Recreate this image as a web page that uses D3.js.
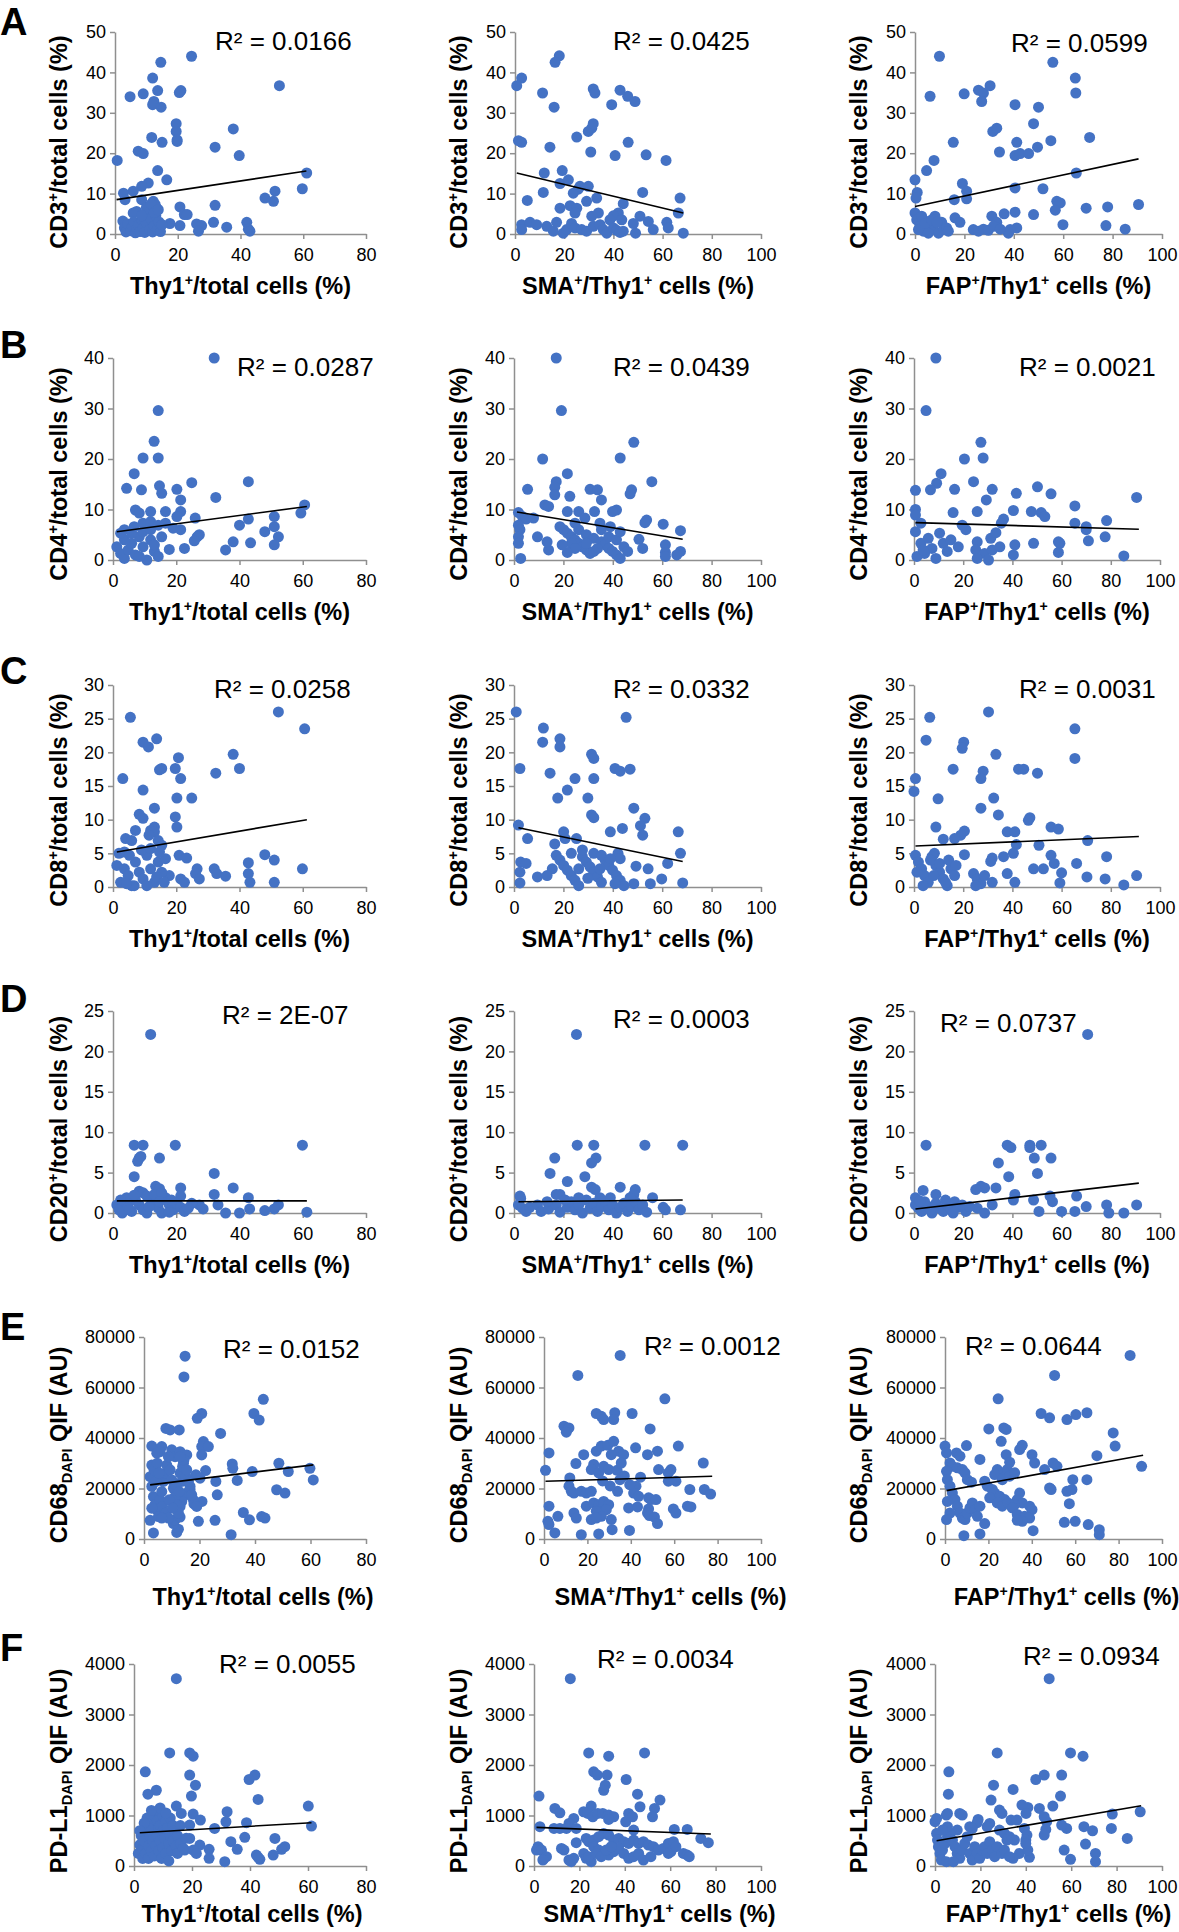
<!DOCTYPE html>
<html><head><meta charset="utf-8">
<script src="https://cdn.jsdelivr.net/npm/d3@7"></script>
<style>body{margin:0;background:#fff;} svg{display:block;} text{font-family:"Liberation Sans",Arial,Helvetica,sans-serif;}</style>
</head><body><svg id="c" width="1179" height="1932"></svg>
<script>
// ---------- labels ----------
const rowLetters = ["A","B","C","D","E","F"];
const yTitles = ["CD3^+/total cells (%)","CD4^+/total cells (%)","CD8^+/total cells (%)","CD20^+/total cells (%)","CD68_DAPI QIF (AU)","PD-L1_DAPI QIF (AU)"];
const xTitles = ["Thy1^+/total cells (%)","SMA^+/Thy1^+ cells (%)","FAP^+/Thy1^+ cells (%)"];
const yTickSets = [[0,10,20,30,40,50],[0,10,20,30,40],[0,5,10,15,20,25,30],[0,5,10,15,20,25],[0,20000,40000,60000,80000],[0,1000,2000,3000,4000]];
const xTickSets = [[0,20,40,60,80],[0,20,40,60,80,100],[0,20,40,60,80,100]];
const r2Labels = [
 ["R² = 0.0166","R² = 0.0425","R² = 0.0599"],
 ["R² = 0.0287","R² = 0.0439","R² = 0.0021"],
 ["R² = 0.0258","R² = 0.0332","R² = 0.0031"],
 ["R² = 2E-07","R² = 0.0003","R² = 0.0737"],
 ["R² = 0.0152","R² = 0.0012","R² = 0.0644"],
 ["R² = 0.0055","R² = 0.0034","R² = 0.0934"]];
// trendline endpoints [x0,y0,x1,y1]
const trends = [
 [[0.5,8.5,61,15.6],[0.7,15.1,68.4,5.2],[0,6.8,90.5,18.6]],
 [[1.2,5.6,61.3,10.6],[1.2,9.5,68.3,4.1],[0.6,7.4,91.4,6.1]],
 [[1.2,5.2,61.3,10],[1.8,8.8,68.3,3.8],[0.6,6.1,91.4,7.5]],
 [[1.2,1.5,61.3,1.5],[1.8,1.4,68.3,1.6],[0.6,0.5,91.4,3.7]],
 [[2.2,21450,61,29350],[0.7,22870,77.5,24850],[0.7,19170,91.3,33180]],
 [[2,659,61.2,857],[1.1,764,77.9,633],[0.7,501,90.8,1193]]];

// ---------- data ----------
const cd3_thy1 = [[24.4,44],[14.6,42.5],[12,38.6],[52.4,36.7],[21,35.5],[20.5,35],[13.6,35.5],[4.8,34],[9,34.7],[12.4,32.8],[12,32],[14.7,31.4],[19.5,27.3],[19.5,25.4],[19.8,23.3],[19.8,22.9],[37.7,26],[11.7,23.9],[15,22.7],[31.9,21.5],[39.6,19.4],[7.4,20.5],[9,19.9],[0.7,18.2],[13.6,15.7],[16.5,13.4],[10.6,12.6],[8.5,11.8],[5.8,10.6],[2.7,10.1],[3.2,8.5],[61.1,15.1],[59.7,11.2],[51,10.6],[50.5,8.1],[47.8,8.9],[20.7,6.7],[22.1,4.8],[23,4.8],[31.9,7.1],[12.2,8.1],[12.8,7.3],[13.3,6.4],[11.7,5.2],[10.1,4.4],[6.9,5.6],[5.8,5.2],[8.5,8.5],[31.4,2.9],[35.6,1.7],[42,2.9],[42.5,1.2],[43,0.7],[26,2.5],[27.6,2.1],[26.6,0.7],[20.7,2.1],[17.5,2.6],[2.5,3.2],[3,1.5],[3.5,0.5],[4,2.5],[5,0.8],[5.5,1.8],[6,3],[6.5,0.3],[7,1.2],[7.5,2.2],[8,0.6],[8.5,3.5],[9,1.5],[9.5,0.4],[10,2.8],[10.5,5.8],[11,1],[11.5,3.8],[12,0.5],[12.5,2],[13,4.5],[13.5,1.2],[14,3],[14.5,0.6],[15,2.3],[10,6.5],[11.5,7.4],[12.5,5.3],[8.5,4.5],[13.8,6]];
const cd3_sma = [[18,44.1],[16.3,42.5],[2.7,38.6],[0.7,36.7],[11.2,34.9],[15.9,31.4],[31.8,35.9],[32.5,34.9],[42.7,35.6],[45.8,34.1],[48.8,32.8],[39.3,32],[29.8,25.4],[31.2,26.2],[31.8,27.3],[25.1,24],[1.4,23.1],[2.7,22.7],[14.2,21.5],[30.8,20.3],[40.7,19.4],[46,22.7],[53.3,19.6],[61.4,18.2],[19.2,15.7],[18.3,12.5],[11.9,15.1],[11.5,10.3],[21.7,13.4],[25.7,11.1],[23.7,10.1],[26.4,11.8],[29.8,11.8],[29.1,8.1],[5,8.3],[33.2,8.9],[33.9,5.2],[31.2,4.4],[51.9,10.3],[67.1,8.9],[66.4,5.2],[18.3,6.4],[22.4,7],[25.1,6.4],[24.4,5.2],[44,7.5],[42,5.2],[40,4.5],[38.6,3.5],[43.4,3.5],[50.8,4.4],[54.2,3.1],[56.2,1.1],[48.1,2.6],[49,0.2],[61.7,2.9],[62.3,1.5],[68.4,0.2],[2.7,2.3],[2.7,1.1],[6.1,2.9],[8.8,2.3],[12.9,1.9],[15.6,0.7],[16.9,2.9],[19.6,0.2],[21,1.1],[23,2.6],[24.4,1.5],[27.1,1.1],[29.1,0.7],[31.8,1.9],[34.6,2.3],[35.9,1.1],[37.3,0.2],[40,1.5],[41.3,0.9],[42.7,0.4],[44,0.7]];
const cd3_fap = [[9.9,44],[55.8,42.5],[64.9,38.6],[65.1,34.9],[6.1,34.1],[19.9,34.7],[25.7,35.6],[27.7,34.9],[27,32.8],[30.4,36.7],[40.5,32],[50,31.4],[48,27.3],[31.5,25.4],[33.1,26.2],[15.5,22.7],[41.2,22.7],[55,23.1],[70.7,23.9],[34.2,20.3],[49.6,21.5],[40.5,19.4],[42.6,19.9],[46,19.9],[7.7,18.2],[4.7,15.7],[0,13.4],[65.3,15.1],[19.2,12.5],[20.9,10.6],[20.9,8.7],[15.9,8.5],[40.5,11.4],[51.8,11.2],[0.9,10.3],[0.4,8.9],[0,5.2],[57.4,8.1],[58.8,7.7],[56.8,5.9],[69.3,6.4],[78,6.7],[90.5,7.3],[40.5,5.4],[48,4.8],[36.1,5],[31.1,4.4],[33.1,2.9],[16.2,4],[18.2,2.9],[59.9,2.3],[77.3,2.1],[85.1,1.2],[41.2,1.5],[38.5,1.1],[37.8,0.2],[23.6,1.1],[25.7,0.7],[27.7,1.2],[29.7,0.9],[31.8,1.9],[34.5,1.2],[0.7,3.5],[2,1.9],[3.4,0.7],[4.7,3.1],[6.1,1.1],[7.4,1.9],[8.1,4.4],[9.5,0.2],[10.8,2.9],[11.5,1.1],[12.8,1.5],[13.5,0.7],[1.4,1.1],[2.7,4.4],[4.1,2.6],[5.4,0.2],[6.8,3.5],[8.8,2.9]];
const cd4_thy1 = [[32,40],[14.3,29.6],[13,23.5],[9.5,20.2],[14.3,20.2],[6.7,17.1],[42.8,15.5],[24.9,15.3],[4.3,14.2],[9,13.9],[14.7,14.7],[15.4,13.2],[20.2,14],[21.4,11.9],[32.5,12.4],[7.1,9.9],[8.3,9.3],[11.9,9.6],[16.6,9.6],[21.4,9.6],[20.2,8.6],[60.6,10.9],[59.4,9.3],[51,8.6],[51,6.6],[42.8,8.1],[26,8.3],[40,6.9],[48,5.6],[27.3,5],[26.6,4.6],[52.3,4.6],[51,3],[43.5,3.4],[38,3.6],[35.6,2],[25.7,3.8],[22.6,2.3],[17.8,2.1],[3.6,6],[6.7,6.6],[9.5,7.3],[11.9,7.6],[14.3,6.9],[16.6,7.3],[19,6.3],[21.4,6],[1.2,2.6],[2.4,1.3],[3.6,0.3],[4.8,2],[5.9,3.3],[7.1,1],[8.3,4.6],[9.5,2.6],[10.7,0],[11.9,4],[13.1,1.7],[14.3,0.7],[15.4,4.6],[3.6,4],[5.9,5.3],[9.5,5.6],[11.9,6],[2.4,5.3],[8.3,0.7],[13.1,3]];
const cd4_sma = [[17.1,40],[19.2,29.6],[48.5,23.3],[43,20.2],[11.6,20],[21.6,17.1],[55.8,15.5],[17.1,15.5],[16.5,14.4],[5.5,14],[30.8,14],[33.8,13.9],[47.6,13.9],[47,13.1],[16.5,12.9],[22.6,12.6],[35.4,11.9],[12.5,10.9],[14,10.6],[41.5,9.9],[39.9,9.6],[32.6,9.6],[21.6,9.6],[26.2,9.6],[1.8,9.4],[3.4,8.6],[4.9,8.1],[7.9,8.3],[53.7,7.9],[53,7.4],[60.4,7.1],[67.4,5.8],[1.8,6.9],[2.4,6],[9.5,4.6],[1.8,4.6],[1.8,3.3],[2.7,0.3],[50.6,4.1],[52.1,2.3],[61.3,3],[61.3,1.5],[61.3,0.7],[67.4,1.7],[65.9,1],[14,2],[13.4,3.6],[18.6,6.6],[20.1,6],[21.6,5.3],[23.2,4.6],[24.7,4],[26.2,3.3],[27.7,2.6],[29.3,2],[30.8,1.3],[23.2,3.3],[26.2,6],[29.3,5],[32.3,4.3],[35.4,3.6],[36.9,3],[38.4,2.3],[39.9,1.7],[41.5,1],[43,0.3],[33.8,2.3],[32.3,1.7],[29.3,3.3],[24.7,2.3],[21.6,1.5],[19.5,3],[35.4,6],[38.4,4.6],[41.5,4],[44.5,2.6],[46,1.7],[39,6.6],[43,5.6],[34.8,7.3],[24.7,7.3],[28.7,8.3]];
const cd4_fap = [[8.9,40],[4.9,29.6],[27.2,23.3],[28.1,20.2],[20.5,20],[11,17.1],[9.2,15.2],[24.2,15.5],[16.5,14],[31.8,14],[0.6,13.8],[6.7,13.9],[50.2,14.5],[55.7,13.1],[41.6,13.2],[29.4,11.9],[90.5,12.4],[65.4,10.7],[0.6,10],[0.6,8.9],[40.4,9.8],[47.7,9.6],[51.7,9.4],[53.2,8.6],[15.9,9.4],[25.7,9.6],[36.4,8.1],[35.5,7.3],[78.3,7.8],[2.8,7.3],[0.6,5.6],[19.6,6.9],[21.1,6],[65.4,7.3],[70,6.6],[70,6],[77.7,4.6],[70.9,3.8],[58.7,3.6],[59.3,3.3],[58.7,1.5],[48.6,3.3],[85.3,0.8],[41,3],[40.4,1],[31.2,4.3],[33.3,5.4],[25.7,3.6],[25.1,2],[18,2.6],[11.9,3.3],[7.3,2.3],[4.3,1.3],[1.2,0.7],[2.8,3.3],[5.8,4.3],[10.4,5.3],[13.5,1.7],[8.9,0.3],[3.7,2],[15,4],[28.7,1.3],[31.8,2],[34.9,2.6],[25.7,0.3],[30.3,0]];
const cd8_thy1 = [[52.3,26],[5.5,25.2],[60.6,23.5],[13.8,22],[9.5,21.5],[11.2,20.8],[38,19.7],[20.7,19.2],[40,17.6],[19.7,17.6],[14.7,17.4],[15.4,17.6],[32.5,16.9],[3.1,16.1],[21.4,16.1],[9.5,14.4],[24.9,13.2],[20.2,13.2],[13.1,11.7],[8.3,10.8],[9.5,10.2],[19.7,10.4],[20.2,8.9],[13.1,8.9],[11.9,8.4],[13.1,8.2],[11.4,7.7],[7.1,8.4],[14.3,6.9],[15.4,6.2],[4,7.2],[5.9,6.9],[3.6,5.2],[1.9,5],[48,4.8],[51,4],[20.9,4.7],[23.3,4.3],[42.8,3.6],[59.9,2.7],[32,2.7],[32.8,2],[35.6,1.6],[26.6,2.7],[26.1,2],[27.3,1.2],[42.8,2],[43.3,0.7],[51,0.7],[21.4,1.2],[22.6,0.7],[17.8,1.7],[1.2,3.2],[2.4,0.7],[3.6,2.7],[4.8,1.7],[5.9,0.2],[7.1,3.7],[8.3,2.2],[9.5,1.2],[10.7,4.7],[11.9,2.7],[13.1,0.7],[14.3,3.7],[15.4,2.2],[16.6,4.2],[5.2,4.7],[9,5.5],[11.9,5.7],[14.7,5.2],[6.7,0.2],[10.7,0.2],[13.8,1.5],[4.3,0.5],[16.2,0.7]];
const cd8_sma = [[0.9,26],[45.4,25.2],[11.9,23.6],[11.6,21.5],[18.6,22],[18.6,20.8],[2.4,17.6],[31.4,19.7],[32.3,19.1],[14.6,16.9],[24.7,16.1],[32.3,16.1],[40.9,17.6],[43,17.2],[47,17.5],[21.6,14.4],[29.9,13.2],[17.7,13.2],[48.5,11.7],[31.4,10.7],[32.3,10.3],[53,10.2],[1.8,9.2],[51.2,9.1],[52.1,7.7],[43.9,8.7],[39,8.2],[66.5,8.2],[5.5,7.2],[20.1,8.2],[20.7,7.2],[16.5,6.4],[25.3,7.2],[67.4,5],[62.2,3.5],[59.8,1.2],[42.1,5],[43,4.2],[2.7,3.7],[4.9,3.5],[2.4,2.2],[2.4,0.6],[9.5,1.5],[68.3,0.6],[48.5,0.5],[55.2,0.5],[54.3,2.7],[49.4,3.1],[17.1,4.7],[18.6,4],[20.1,3.2],[21.6,2.5],[23.2,1.7],[24.7,1],[26.2,0.2],[27.7,4.5],[29.3,3.7],[30.8,3],[32.3,2.2],[33.8,1.5],[35.4,0.7],[36.9,4],[38.4,3.2],[39.9,2.5],[41.5,1.7],[43,1],[44.5,0.2],[15.5,2.7],[13.4,1.7],[23.2,5],[27.7,5.5],[32.3,5],[35.4,4.7],[39,4.2],[26.2,2.7],[29.9,1.3],[34.8,2.7],[40.9,0.5]];
const cd8_fap = [[30.3,26],[6.4,25.2],[65.4,23.5],[65.4,19.1],[4.9,21.8],[20.2,21.5],[19.6,20.6],[33.3,19.7],[15.9,17.5],[28.1,17.2],[27.2,16.1],[42.5,17.5],[44.6,17.5],[50.2,16.9],[0.6,16.1],[0,14.2],[9.8,13.1],[32.4,13.2],[27.2,11.7],[34.3,10.7],[47.1,10.3],[46.5,9.9],[8.9,8.9],[55.7,8.9],[58.7,8.6],[37.9,8.2],[41,8.2],[20.5,8.3],[19,7.7],[16.5,7.2],[11.9,7.1],[70.6,6.9],[41.6,6.3],[50.8,6.2],[8.3,5],[20.5,4.8],[55.7,4.7],[40.4,5],[78.3,4.5],[31.8,4.3],[36.4,4.5],[31.2,3.8],[57,3.5],[60,2.1],[66.1,3.5],[52.6,2.7],[48.6,2.7],[70.3,1.5],[77.7,1.2],[90.5,1.7],[85.3,0.3],[59.3,0.6],[41,0.7],[37.9,2],[24.2,2],[25.7,1.2],[27.2,0.5],[28.7,1.7],[25.1,0.2],[31.8,0.7],[0.6,4.7],[1.8,3.7],[3.1,2.7],[4.3,1.7],[5.8,0.7],[7.3,4.5],[8.9,3.2],[10.4,2.2],[11.9,1.2],[13.5,0.2],[3.7,0.2],[6.7,4],[10.4,3.5],[15,2.7],[16.5,1.7],[8,1.7],[1.2,2.2],[14.1,4],[17.1,3.2],[12.8,0.7]];
const cd20_thy1 = [[11.9,22.1],[6.7,8.4],[9.5,8.4],[19.7,8.4],[59.9,8.4],[8.3,6.8],[7.8,6.4],[8.8,7],[14.7,6.8],[6.7,4.5],[32,4.9],[38,3.1],[13.5,3.3],[14.7,3],[21.4,3.1],[8.3,2.7],[9.5,2.5],[32,2.3],[33.2,1],[42.8,1.9],[21.4,2.1],[52.3,1],[51,0.5],[48,0.3],[35.6,0],[40,0],[43.2,0.5],[61.3,0.1],[27.3,1],[28.5,0.5],[24.9,1.2],[1.2,1],[1.9,0.4],[2.9,0],[3.6,1.4],[4.8,0.8],[5.9,0.2],[7.1,1.6],[8.3,1],[9.5,0.4],[10.7,0],[11.9,1.9],[13.1,1.2],[14.3,0.6],[15.4,0],[16.6,1.9],[17.8,1],[19,0.4],[20.2,1.2],[21.4,0.7],[22.6,0.2],[4.3,1.9],[6.7,2.2],[10.7,2.1],[13.1,2.3],[15.4,2.5],[18.5,1.6],[23.8,0.6],[2.4,1.6],[5.2,0.4],[11.4,0.8],[14.7,1.4],[17.8,0.1]];
const cd20_sma = [[25.3,22.1],[25.6,8.4],[32.3,8.4],[53,8.4],[68.3,8.4],[16.5,6.8],[33.2,6.8],[31.4,6.2],[14.6,4.9],[28.7,4.5],[21.6,3.9],[31.4,3.2],[32.9,2.9],[43,3.2],[49.1,2.9],[48.5,2.3],[17.1,2.3],[18.6,2.3],[2.4,2.1],[2.7,1.8],[56.1,1.9],[60.4,0.7],[61.3,0.4],[67.4,0.4],[1.8,1],[3.4,0.6],[4.9,0.2],[6.4,0.7],[9.5,1],[11,0.2],[14,0.5],[17.1,1],[18.6,0.1],[21.6,0.7],[23.2,1.4],[24.7,0.4],[26.2,1],[27.7,0],[29.3,1.6],[30.8,0.6],[32.3,1.2],[33.8,0.2],[35.4,0.8],[36.9,1.4],[38.4,0.4],[39.9,1],[41.5,0],[43,0.7],[44.5,1.2],[46,0.2],[47.6,0.8],[49.1,1.4],[50.6,0.4],[52.1,1],[53.7,0.1],[39,1.9],[34.8,1.9],[26.2,1.9],[20.7,1.6],[13.4,1.4],[47,1.9]];
const cd20_fap = [[70.6,22.1],[4.9,8.4],[37.9,8.4],[47.1,8.4],[51.7,8.4],[39.4,8.1],[47.1,8.1],[48.9,6.8],[55.7,6.8],[34.3,6.2],[50.2,4.9],[38.5,4.5],[27.2,3.3],[28.7,3.1],[33.3,3.1],[3.7,2.8],[8.9,2.3],[25.1,2.9],[41,2.3],[40.4,1.6],[55.3,2.1],[56.3,1.4],[66.1,2.1],[48.6,1.6],[50.8,0.2],[60,0.2],[70,0.8],[65.4,0.2],[78.3,1],[79.2,0],[85.3,0],[90.5,1],[31.8,1],[25.7,0.6],[21.1,0.2],[28.7,0],[0.6,1],[1.8,0.6],[3.1,0.2],[4.3,1.4],[5.8,0.8],[7.3,0],[8.9,1.2],[10.4,0.6],[11.9,0.2],[13.5,1],[15,0.5],[16.5,1.4],[18,0.7],[19.6,1],[22.6,0.8],[0.6,1.9],[2.4,1.5],[12.8,1.6],[15.9,0],[6.7,0.4]];
const cd68_thy1 = [[14.8,72400],[14.4,64200],[43,55300],[39.6,49700],[41.5,47100],[20.8,49700],[19.2,47800],[27.6,41800],[7.9,43800],[9.4,43200],[12.7,43200],[21.4,38600],[20.8,36600],[23.2,36600],[20.8,33300],[2.8,36800],[6.4,36600],[5.8,34600],[4.6,34000],[10,35300],[11.2,32600],[13,34600],[15.4,33300],[14.2,30000],[48.6,30000],[31.8,29700],[32,28000],[2.8,29300],[52,26700],[59.8,28000],[39,26700],[22.2,27100],[18.7,25400],[20.2,24100],[33.6,23200],[25.9,22800],[61,23400],[16.6,19500],[15.4,18200],[14.2,16800],[13.6,14900],[13,12900],[16.6,20800],[17.8,15500],[47.8,19500],[50.8,18200],[26.4,17500],[20.9,14900],[18,13900],[19,12900],[35.8,10500],[38,7600],[42.4,8900],[43.6,8300],[19.6,7000],[25.6,7400],[31.4,1700],[3.4,2400],[11.8,2600],[12.4,3900],[10.6,6100],[11.2,7600],[13,8700],[2.2,7400],[2.2,24700],[2.8,20800],[3.4,16800],[4,13600],[4.6,11600],[5.2,8900],[5.8,15500],[6.4,18800],[7,22800],[7.6,26100],[8.2,29300],[8.8,32600],[9.4,27400],[10,23400],[10.6,20100],[11.2,16800],[11.8,13600],[12.4,10300],[13,26100],[13.6,22800],[13.9,28700],[14.4,31300],[15.1,24700],[3.6,27400],[4.8,30000],[4.3,22800],[5.5,26100],[6.7,12900],[7.9,10300],[9.1,15500],[10.3,12200],[11.5,21500],[12.7,18800],[8.8,8300],[6.4,8300],[2.8,12200],[13,32600],[15.4,27400],[16,22800],[17.2,17500]];
const cd68_sma = [[35.1,72700],[15.6,64800],[55.7,55500],[24.1,49700],[26.4,48600],[32.6,50000],[32.1,47300],[40.6,49700],[27.5,47300],[9.2,44700],[11.5,44000],[10.3,42300],[48.9,43600],[61.9,36800],[42.2,36100],[52.3,34800],[47.7,33400],[2.3,34100],[18.3,33400],[14.7,29900],[73.4,30100],[0.7,27200],[24.1,34800],[26.4,36800],[29.4,37100],[32.1,38700],[34.4,34800],[36.7,33400],[31,33400],[22.9,29500],[21.8,27500],[25.2,26200],[27.5,28800],[29.8,27500],[33.7,27200],[35.6,30100],[52.8,27500],[58.5,27500],[57.3,26200],[60.8,22900],[57.3,22900],[11.9,24200],[11.5,20900],[12.6,18900],[13.8,18200],[17.2,18900],[19.5,18200],[21.8,18900],[42.4,20900],[41.3,18200],[43.6,16900],[48.2,16300],[49.3,15600],[51.6,15600],[67.2,19600],[73.9,19600],[76.8,17800],[33.9,18900],[2.3,13000],[19.5,13000],[22.9,14300],[25.2,13600],[27.5,14900],[29.8,13600],[28.7,11600],[24.1,11000],[26.4,9000],[39,12300],[43.1,12700],[48.2,11900],[47.7,10300],[48.6,9300],[59.6,11900],[60.8,10300],[66.1,13000],[67.7,12700],[13.8,10300],[14.9,8300],[21.8,7700],[24.1,8300],[1.8,7000],[2.3,5700],[6.4,9000],[31,7700],[50.9,8700],[52.3,6100],[5,2400],[17.2,1700],[25.2,2000],[31.4,3700],[39.4,3400],[37,25000],[39.5,21500],[44.5,24500],[30.5,21000],[27,23000],[35,23500]];
const cd68_fap = [[85.3,72700],[50.5,64800],[24.5,55500],[44.3,49700],[48.2,48000],[60.3,49300],[56.2,47300],[65.4,50000],[20.2,43600],[28.2,43400],[27.1,44000],[77.5,42000],[25.9,38700],[35.6,37100],[34.4,35400],[78.4,36800],[0,36800],[0.7,34100],[9.9,37000],[5.3,34100],[6.9,32800],[16.1,31500],[40.1,33400],[41.3,30100],[28.2,33400],[70,33000],[49.8,30100],[51.6,28800],[90.6,28800],[45.9,27500],[29.8,30400],[28.7,27500],[27.5,26200],[24.1,27500],[22.9,25500],[26.4,23500],[29.8,24900],[32.1,26200],[2.3,30100],[3.4,28800],[5.7,28200],[8,27500],[9.2,26200],[10.3,23500],[12.2,22500],[0.7,26800],[1.1,23500],[2.3,20900],[18.3,22900],[19.5,20900],[21.8,19600],[22.9,18200],[25.2,16900],[27.5,15600],[20.6,16300],[24.1,14300],[26.4,13000],[58.9,23500],[65.4,23500],[48.2,20200],[48.9,19600],[56.2,18900],[58.5,19600],[57.3,14000],[34.4,18200],[33.3,15600],[35.6,14300],[32.1,13600],[39,13000],[40.1,11600],[3.4,18200],[4.6,15600],[5.7,13000],[6.9,10300],[8,8300],[9.2,7700],[10.3,10300],[11.5,12300],[12.6,14300],[13.8,11600],[14.9,9000],[16.1,13000],[1.1,14900],[2.3,10300],[0.7,7700],[29.1,14300],[31,12300],[33.3,9700],[36.7,9000],[39,8300],[35.6,7000],[33.3,7400],[18.3,6100],[55,6600],[60,7000],[66,5700],[71.1,3700],[71.1,1700],[40.6,3300],[8.7,1300],[16.1,2000]];
const pdl1_thy1 = [[14.6,3710],[12.3,2240],[19.2,2240],[20.4,2175],[3.9,1865],[19.2,1800],[41.7,1800],[39.7,1713],[21.2,1600],[7.7,1500],[4.8,1423],[19.8,1384],[42.8,1318],[14.6,1186],[60.1,1186],[16.3,1041],[20.4,1028],[32.1,1074],[22.9,909],[31.7,876],[38.8,857],[61.2,791],[19.2,811],[27.8,745],[19.2,547],[38.2,567],[48.6,547],[33.4,481],[22.7,415],[20.4,316],[21.5,250],[17.5,316],[25.9,330],[35.6,330],[52,382],[50.9,330],[42.2,217],[43.4,132],[42.8,172],[48,217],[25.9,152],[31.3,86],[1.5,250],[2,420],[2.5,600],[3,150],[3,350],[3.5,500],[4,700],[4,250],[4.5,950],[5,400],[5,150],[5.5,600],[6,850],[6,300],[6.5,500],[7,1000],[7,700],[7,200],[7.5,400],[8,900],[8,600],[8.5,300],[8.5,1100],[9,800],[9,500],[9.5,150],[10,1000],[10,700],[10,350],[10.5,550],[11,900],[11,250],[11.5,750],[12,450],[12,100],[12.5,950],[12.5,600],[13,300],[13.5,800],[13.5,500],[14,700],[14.5,400],[15,600],[15,250],[16,800],[16,450],[17,350],[18,550],[9,1150],[11,1050],[6,1100],[5,750],[3.5,850],[2,700]];
const pdl1_sma = [[16,3710],[24.1,2240],[48.7,2240],[32.9,2175],[26.3,1865],[27.9,1800],[32.2,1800],[40.6,1713],[31.4,1600],[30.7,1500],[45.6,1423],[2.2,1384],[55.5,1305],[46.7,1173],[25.2,1186],[53.1,1140],[52.2,975],[9.2,1140],[11.4,1054],[21.9,1074],[23.7,1041],[25.9,975],[28.1,1041],[30.3,1041],[32.9,1008],[35.1,975],[32.9,923],[41.7,1041],[40.4,876],[43.4,975],[2.6,778],[8.8,745],[11.4,745],[17.5,942],[15.4,843],[18.6,745],[14.3,745],[61.8,725],[67.5,725],[43.9,712],[73.5,547],[76.8,461],[18.6,461],[1.8,382],[1.1,316],[3.3,316],[4.4,152],[5.5,185],[3.9,119],[12.1,349],[13.2,316],[15.4,119],[17.5,152],[25.2,86],[16.4,86],[23,547],[24.1,481],[26.3,514],[28.5,580],[30.7,646],[32.9,613],[35.1,514],[37.3,547],[39.5,481],[41.7,448],[43.9,514],[46.1,448],[48.2,481],[50.4,415],[52.6,382],[54.8,316],[57,349],[59.2,448],[61.4,481],[60.3,283],[62.5,382],[59.2,250],[26.3,382],[28.5,316],[30.7,250],[32.9,217],[35.1,283],[37.3,349],[39.5,250],[41.7,152],[43.9,185],[46.1,250],[48.2,119],[51.5,185],[65.8,250],[67.5,217],[68.4,184],[21.9,250],[23,152],[24.1,185],[27.4,250],[29.6,185],[31.8,316],[34,382]];
const pdl1_fap = [[50.3,3710],[27.4,2240],[59.7,2240],[65.2,2175],[6.1,1865],[48.1,1800],[44.4,1713],[55.8,1800],[25.8,1600],[34.4,1516],[5.9,1423],[55.3,1384],[24.7,1305],[51.9,1186],[46,1140],[40.9,1160],[38.3,1206],[90.4,1074],[78.1,1028],[5.5,1041],[5,1008],[10.9,1041],[12,1008],[19,923],[18.6,857],[28.4,1107],[29.5,1041],[33.5,909],[36.1,909],[40.1,1041],[49.2,877],[48.1,975],[0,877],[0.7,942],[9.8,712],[15.3,778],[16.4,745],[24.1,843],[23,778],[28.4,712],[30.6,646],[32.8,580],[35,514],[31.7,514],[39.4,745],[40.5,613],[40,514],[48.8,725],[48.1,613],[58,745],[55.8,811],[65.6,778],[69.4,698],[77.7,745],[84.7,547],[66.3,435],[56.9,316],[59.7,132],[70.7,250],[70.7,86],[37.2,250],[41.6,171],[34.4,152],[40.9,316],[40,448],[0.7,646],[1.1,514],[1.5,382],[2.2,250],[3.3,316],[4.4,448],[5.5,580],[6.6,646],[7.7,514],[8.8,382],[9.8,250],[10.9,152],[12,316],[13.1,448],[14.2,580],[15.3,250],[16.4,119],[17.5,382],[18.6,250],[19.7,152],[20.8,316],[21.9,382],[23,250],[24.1,481],[25.2,316],[26.3,185],[27.4,382],[29.5,250],[30.6,316],[32.8,185],[2.8,119],[5,86],[8.1,86],[5.5,778],[3.3,712]];

const dataGrid = [
 [cd3_thy1, cd3_sma, cd3_fap],
 [cd4_thy1, cd4_sma, cd4_fap],
 [cd8_thy1, cd8_sma, cd8_fap],
 [cd20_thy1, cd20_sma, cd20_fap],
 [cd68_thy1, cd68_sma, cd68_fap],
 [pdl1_thy1, pdl1_sma, pdl1_fap]];

// ---------- layout (positions/sizes only) ----------
const colsBD = [[113,366],[514,761],[914,1160]];
const layout = [
 {top:32, bottom:234, xs:[[115,366],[515,761],[915,1162]], letterY:35, ytShift:9, xtOff:60, xtDx:[0,0,0], r2:[[215,50],[613,50],[1011,52]]},
 {top:358, bottom:560, xs:colsBD, letterY:358, ytShift:15, xtOff:60, xtDx:[0,0,0], r2:[[237,376],[613,376],[1019,376]]},
 {top:685, bottom:887, xs:colsBD, letterY:684, ytShift:14, xtOff:60, xtDx:[0,0,0], r2:[[214,698],[613,698],[1019,698]]},
 {top:1011, bottom:1213, xs:colsBD, letterY:1012, ytShift:17, xtOff:60, xtDx:[0,0,0], r2:[[222,1024],[613,1028],[940,1032]]},
 {top:1337, bottom:1539, xs:[[144,366],[544,761],[945,1162]], letterY:1340, ytShift:7, xtOff:66, xtDx:[8,18,13], r2:[[223,1358],[644,1355],[965,1355]]},
 {top:1664, bottom:1866, xs:[[134,366],[534,761],[935,1162]], letterY:1661, ytShift:6, xtOff:56, xtDx:[2,12,10], r2:[[219,1673],[597,1668],[1023,1665]]}];
const yTitleX = [59, 459, 859];
const FS_TITLE = 23.5, FS_TICK = 18, FS_R2 = 26, FS_LETTER = 38;
const AXIS = "#8f8f8f", DOT = "#4472C4";

const svg = d3.select("#c");

function rich(t, str, fs) {
  const parts = str.split(/(\^\+|_DAPI)/).filter(p => p !== "");
  let pending = 0;
  parts.forEach(p => {
    const ts = t.append("tspan");
    if (p === "^+") {
      ts.text("+").attr("font-size", fs*0.6).attr("dy", pending - fs*0.38);
      pending = fs*0.38;
    } else if (p === "_DAPI") {
      ts.text("DAPI").attr("font-size", fs*0.62).attr("dy", pending + fs*0.22);
      pending = -fs*0.22;
    } else {
      ts.text(p).attr("dy", pending);
      pending = 0;
    }
  });
}

layout.forEach((L, r) => {
  svg.append("text").attr("x", 0).attr("y", L.letterY)
    .attr("font-size", FS_LETTER).attr("font-weight", "bold").text(rowLetters[r]);
  for (let c = 0; c < 3; c++) {
    const [x0, x1] = L.xs[c];
    const xd = xTickSets[c];
    const yd = yTickSets[r];
    const x = d3.scaleLinear().domain([0, xd[xd.length-1]]).range([x0, x1]);
    const y = d3.scaleLinear().domain([0, yd[yd.length-1]]).range([L.bottom, L.top]);
    const g = svg.append("g");
    const gx = g.append("g").attr("transform", `translate(0,${L.bottom})`)
      .call(d3.axisBottom(x).tickValues(xd).tickSize(5).tickSizeOuter(0).tickPadding(9).tickFormat(d3.format("d")));
    const gy = g.append("g").attr("transform", `translate(${x0},0)`)
      .call(d3.axisLeft(y).tickValues(yd).tickSize(5).tickSizeOuter(0).tickPadding(4).tickFormat(d3.format("d")));
    [gx, gy].forEach(a => {
      a.select(".domain").attr("stroke", AXIS).attr("stroke-width", 1.5);
      a.selectAll(".tick line").attr("stroke", AXIS).attr("stroke-width", 1.5);
      a.selectAll(".tick text").attr("font-size", FS_TICK).attr("fill", "#000")
        .attr("font-family", '"Liberation Sans",Arial,sans-serif');
    });
    g.append("g").selectAll("circle").data(dataGrid[r][c]).join("circle")
      .attr("cx", d => x(d[0])).attr("cy", d => y(d[1])).attr("r", 5.5).attr("fill", DOT);
    const t = trends[r][c];
    g.append("line").attr("x1", x(t[0])).attr("y1", y(t[1])).attr("x2", x(t[2])).attr("y2", y(t[3]))
      .attr("stroke", "#000").attr("stroke-width", 1.6);
    g.append("text").attr("x", L.r2[c][0]).attr("y", L.r2[c][1]).attr("font-size", FS_R2).text(r2Labels[r][c]);
    const xt = g.append("text").attr("x", (x0 + x1)/2 + L.xtDx[c]).attr("y", L.bottom + L.xtOff)
      .attr("text-anchor", "middle").attr("font-size", FS_TITLE).attr("font-weight", "bold");
    rich(xt, xTitles[c], FS_TITLE);
    const cy = (L.top + L.bottom)/2 + L.ytShift;
    const yt = g.append("text").attr("transform", `translate(${yTitleX[c] + FS_TITLE*0.35},${cy}) rotate(-90)`)
      .attr("text-anchor", "middle").attr("font-size", FS_TITLE).attr("font-weight", "bold");
    rich(yt, yTitles[r], FS_TITLE);
  }
});
</script></body></html>
